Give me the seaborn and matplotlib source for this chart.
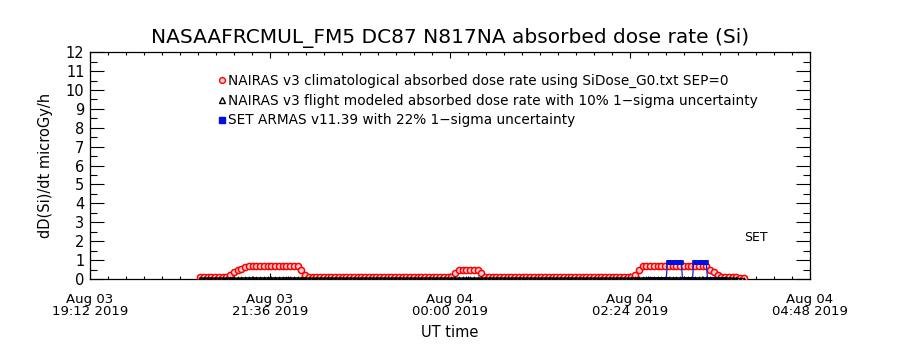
import numpy as np
import pandas as pd
import matplotlib
matplotlib.use("Agg")
import matplotlib.pyplot as plt
import matplotlib.dates as mdates
from matplotlib.lines import Line2D
from matplotlib.ticker import FixedLocator, MultipleLocator
import seaborn as sns

# ---------------- data ----------------
title = "NASAAFRCMUL_FM5 DC87 N817NA absorbed dose rate (Si)"
y_label = "dD(Si)/dt microGy/h"
x_label = "UT time"
legend_labels = [
    "NAIRAS v3 climatological absorbed dose rate using SiDose_G0.txt SEP=0",
    "NAIRAS v3 flight modeled absorbed dose rate with 10% 1\u2212sigma uncertainty",
    "SET ARMAS v11.39 with 22% 1\u2212sigma uncertainty",
]
x_limits = ["2019-08-03 19:12", "2019-08-04 04:48"]
x_tick_times = ["2019-08-03 19:12", "2019-08-03 21:36", "2019-08-04 00:00",
                "2019-08-04 02:24", "2019-08-04 04:48"]
x_tick_labels = ["Aug 03\n19:12 2019", "Aug 03\n21:36 2019", "Aug 04\n00:00 2019",
                 "Aug 04\n02:24 2019", "Aug 04\n04:48 2019"]
y_ticks = [0, 1, 2, 3, 4, 5, 6, 7, 8, 9, 10, 11, 12]

model_times = pd.date_range("2019-08-03 20:40", periods=146, freq="3min")
clim_rate = [
    0.12, 0.12, 0.12, 0.12, 0.12, 0.12, 0.12, 0.12, 0.2, 0.35,
    0.45, 0.55, 0.65, 0.7, 0.7, 0.7, 0.7, 0.7, 0.7, 0.7,
    0.7, 0.7, 0.7, 0.7, 0.7, 0.7, 0.7, 0.45, 0.2, 0.12,
    0.12, 0.12, 0.12, 0.12, 0.12, 0.12, 0.12, 0.12, 0.12, 0.12,
    0.12, 0.12, 0.12, 0.12, 0.12, 0.12, 0.12, 0.12, 0.12, 0.12,
    0.12, 0.12, 0.12, 0.12, 0.12, 0.12, 0.12, 0.12, 0.12, 0.12,
    0.12, 0.12, 0.12, 0.12, 0.12, 0.12, 0.12, 0.12, 0.3, 0.5,
    0.5, 0.5, 0.5, 0.5, 0.5, 0.3, 0.12, 0.12, 0.12, 0.12,
    0.12, 0.12, 0.12, 0.12, 0.12, 0.12, 0.12, 0.12, 0.12, 0.12,
    0.12, 0.12, 0.12, 0.12, 0.12, 0.12, 0.12, 0.12, 0.12, 0.12,
    0.12, 0.12, 0.12, 0.12, 0.12, 0.12, 0.12, 0.12, 0.12, 0.12,
    0.12, 0.12, 0.12, 0.12, 0.12, 0.12, 0.2, 0.5, 0.7, 0.7,
    0.7, 0.7, 0.7, 0.7, 0.7, 0.7, 0.7, 0.7, 0.7, 0.7,
    0.7, 0.7, 0.7, 0.7, 0.7, 0.7, 0.5, 0.35, 0.2, 0.12,
    0.12, 0.12, 0.1, 0.08, 0.05, 0.03,
]
flight_rate = [
    0.04, 0.04, 0.04, 0.04, 0.04, 0.04, 0.04, 0.04, 0.04, 0.04,
    0.04, 0.04, 0.05, 0.05, 0.05, 0.05, 0.05, 0.05, 0.05, 0.05,
    0.05, 0.05, 0.05, 0.05, 0.05, 0.05, 0.05, 0.04, 0.04, 0.04,
    0.04, 0.04, 0.04, 0.04, 0.04, 0.04, 0.04, 0.04, 0.04, 0.04,
    0.04, 0.04, 0.04, 0.04, 0.04, 0.04, 0.04, 0.04, 0.04, 0.04,
    0.04, 0.04, 0.04, 0.04, 0.04, 0.04, 0.04, 0.04, 0.04, 0.04,
    0.04, 0.04, 0.04, 0.04, 0.04, 0.04, 0.04, 0.04, 0.04, 0.04,
    0.04, 0.04, 0.04, 0.04, 0.04, 0.04, 0.04, 0.04, 0.04, 0.04,
    0.04, 0.04, 0.04, 0.04, 0.04, 0.04, 0.04, 0.04, 0.04, 0.04,
    0.04, 0.04, 0.04, 0.04, 0.04, 0.04, 0.04, 0.04, 0.04, 0.04,
    0.04, 0.04, 0.04, 0.04, 0.04, 0.04, 0.04, 0.04, 0.04, 0.04,
    0.04, 0.04, 0.04, 0.04, 0.04, 0.04, 0.04, 0.04, 0.05, 0.05,
    0.05, 0.05, 0.05, 0.05, 0.05, 0.05, 0.05, 0.05, 0.05, 0.05,
    0.05, 0.05, 0.05, 0.05, 0.05, 0.05, 0.04, 0.04, 0.04, 0.04,
    0.04, 0.04, 0.04, 0.03, 0.02, 0.01,
]
set_times = pd.date_range("2019-08-04 02:40", periods=61, freq="1min")
set_rate = [
    0, 0, 0, 0, 0, 0, 0, 0, 0, 0, 0, 0, 0, 0,
    0.9, 0.9, 0.9, 0.9, 0.9, 0.9, 0.9, 0.9, 0.9, 0.9, 0.9, 0.9,
    0, 0, 0, 0, 0, 0, 0, 0, 0,
    0.9, 0.9, 0.9, 0.9, 0.9, 0.9, 0.9, 0.9, 0.9, 0.9, 0.9,
    0, 0, 0, 0, 0, 0, 0, 0, 0, 0, 0, 0, 0, 0, 0,
]
set_note = "SET"
set_note_time = "2019-08-04 04:05"
set_note_value = 2.2

assert len(clim_rate) == len(model_times) == len(flight_rate)
assert len(set_rate) == len(set_times)

# ---------------- figure ----------------
sns.set_style("white")
plt.rcParams["font.family"] = ["DejaVu Sans"]
plt.rcParams["text.color"] = "black"
plt.rcParams["axes.labelcolor"] = "black"
plt.rcParams["xtick.color"] = "black"
plt.rcParams["ytick.color"] = "black"

fig = plt.figure(figsize=(9, 3.5), dpi=100)
ax = fig.add_axes([0.1, 0.203, 0.8, 0.648])

sns.lineplot(x=model_times, y=clim_rate, ax=ax, color="red", linewidth=1.0,
             marker="o", markersize=4.4, markerfacecolor="#ffd0d0",
             markeredgecolor="red", markeredgewidth=1.1,
             estimator=None, sort=False, zorder=3)
sns.lineplot(x=set_times, y=set_rate, ax=ax, color="#1020d0", linewidth=0.9,
             marker="s", markersize=3.2, markerfacecolor="#0010e0",
             markeredgecolor="#0010e0", markeredgewidth=0.5,
             estimator=None, sort=False, zorder=3.5)
sns.lineplot(x=model_times, y=flight_rate, ax=ax, color="black", linewidth=1.2,
             marker="^", markersize=2.5, markerfacecolor="black",
             markeredgecolor="black", markeredgewidth=0.5,
             estimator=None, sort=False, zorder=4)

ax.text(pd.Timestamp(set_note_time), set_note_value, set_note, fontsize=9,
        ha="center", va="center", color="black")

xlo, xhi = [mdates.date2num(pd.Timestamp(t)) for t in x_limits]
ax.set_xlim(xlo, xhi)
ax.set_ylim(0, 12)
ax.xaxis.set_major_locator(FixedLocator([mdates.date2num(pd.Timestamp(t)) for t in x_tick_times]))
ax.set_xticklabels(x_tick_labels, fontsize=9.5, linespacing=0.95)
ax.xaxis.set_minor_locator(MultipleLocator(0.01))
ax.set_yticks(y_ticks)
ax.set_yticklabels([str(v) for v in y_ticks], fontsize=10.5)
ax.yaxis.set_minor_locator(MultipleLocator(0.5))

ax.tick_params(axis="x", which="major", direction="in", length=4, width=0.8,
               top=True, bottom=True, pad=10)
ax.tick_params(axis="x", which="minor", direction="in", length=2, width=0.8,
               top=True, bottom=True)
ax.tick_params(axis="y", which="major", direction="in", length=10, width=0.8,
               left=True, right=True, pad=4)
ax.tick_params(axis="y", which="minor", direction="in", length=5, width=0.8,
               left=True, right=True)
for s in ax.spines.values():
    s.set_visible(True)
    s.set_linewidth(0.9)
    s.set_color("black")

ax.set_xlabel(x_label, fontsize=10.5, labelpad=5)
ax.set_ylabel(y_label, fontsize=10.5, labelpad=9)
fig.text(0.5, 0.89, title, ha="center", va="center", fontsize=14.5, color="black")

handles = [
    Line2D([], [], linestyle="none", marker="o", markersize=4.2,
           markerfacecolor="#ffd0d0", markeredgecolor="red", markeredgewidth=1.0),
    Line2D([], [], linestyle="none", marker="^", markersize=4.5,
           markerfacecolor="white", markeredgecolor="black", markeredgewidth=1.0),
    Line2D([], [], linestyle="none", marker="s", markersize=4,
           markerfacecolor="#0010e0", markeredgecolor="#0010e0"),
]
ax.legend(handles, legend_labels, loc="upper left", bbox_to_anchor=(0.178, 0.905),
          frameon=False, handlelength=0.6, handletextpad=0.15, labelspacing=0.42,
          fontsize=9.8, borderaxespad=0, borderpad=0)

fig.savefig("out.png", dpi=100, facecolor="white")
